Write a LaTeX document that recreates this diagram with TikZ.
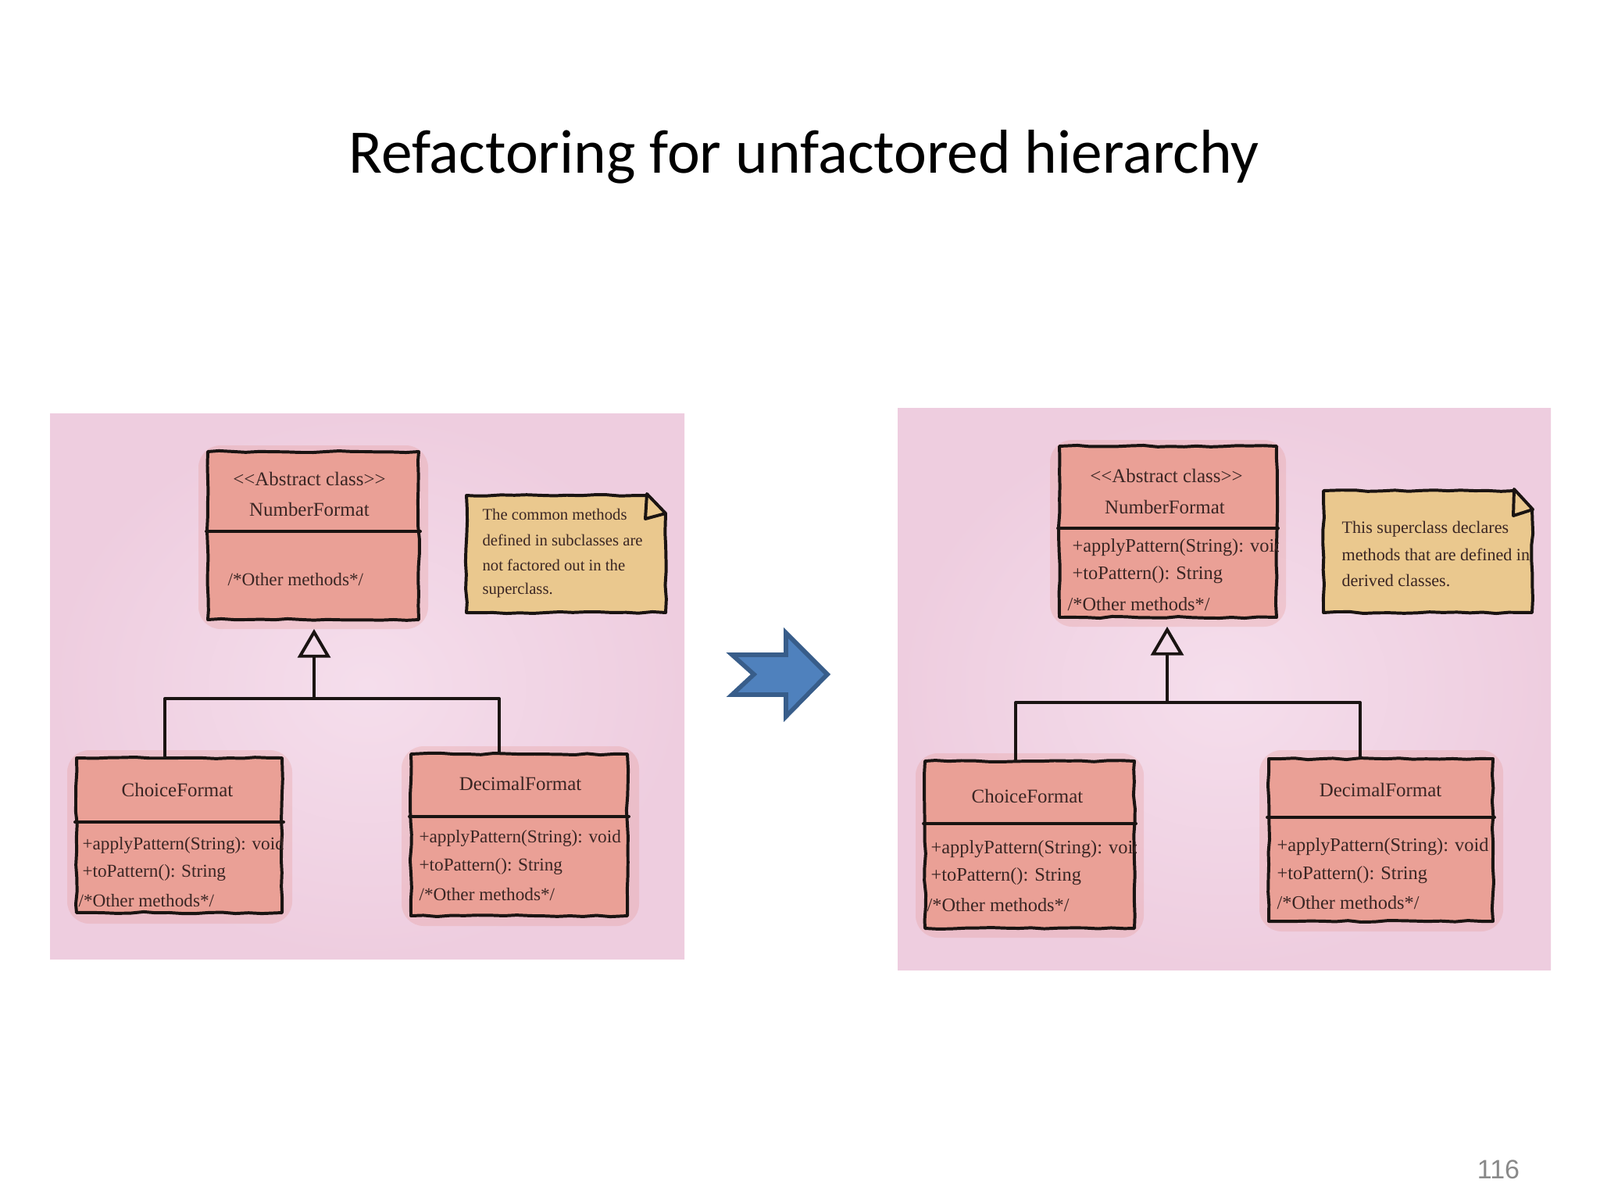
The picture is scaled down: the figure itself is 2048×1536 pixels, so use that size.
\documentclass[tikz,border=0pt]{standalone}
\usepackage{fontspec}
\setmainfont{Carlito}
\newfontfamily\hand{Liberation Serif}
\newfontfamily\pgnum{Liberation Sans}
\usetikzlibrary{arrows.meta,decorations.pathmorphing,fit}
\definecolor{panelin}{HTML}{F5DEEC}
\definecolor{panelout}{HTML}{EECDDF}
\definecolor{salmon}{HTML}{EAA096}
\definecolor{bleed}{HTML}{E58F88}
\definecolor{notefill}{HTML}{EAC88E}
\definecolor{ink}{HTML}{1A1412}
\definecolor{txt}{HTML}{3A2624}
\definecolor{arrowfill}{HTML}{4F81BD}
\definecolor{arrowline}{HTML}{385D8A}
\definecolor{numgray}{HTML}{898989}
\begin{document}
\begin{tikzpicture}[x=0.0124023cm,y=-0.0124023cm,
  ink/.style={draw=ink, line width=1.4pt, line cap=round, line join=round},
  rough/.style={decorate, decoration={random steps, segment length=6pt, amplitude=0.4pt}},
  cls/.style={ink, rough, fill=salmon, inner sep=0pt, rectangle},
  halo/.style={fill=bleed, opacity=0.25, rounded corners=10pt},
  mth/.style={font=\hand\fontsize{8.2}{10}\selectfont, text=txt, anchor=west, inner sep=0pt},
  mthr/.style={mth, font=\hand\fontsize{8.6}{10}\selectfont},
  nm/.style={font=\hand\fontsize{8.8}{11}\selectfont, text=txt, inner sep=0pt},
  nt/.style={font=\hand\fontsize{7.3}{9}\selectfont, text=txt, anchor=west, inner sep=0pt},
  ntr/.style={nt, font=\hand\fontsize{7.8}{9}\selectfont},
  notebox/.style={inner sep=0pt, rectangle},
  gen/.style={ink, -{Triangle[open, length=13pt, width=14.8pt]}, shorten >=3.5pt}
]
\useasboundingbox (0,0) rectangle (2048,1536);
\fill[white] (0,0) rectangle (2048,1536);

% title and page number
\node[font=\fontsize{28}{34}\selectfont, anchor=base] (title) at (1029,221) {Refactoring for unfactored hierarchy};
\node[font=\pgnum\fontsize{12}{14}\selectfont, text=numgray, anchor=base] (pnum) at (1918,1508) {116};

% panels
\shade[inner color=panelin, outer color=panelout] (64,529) rectangle (876,1227);
\shade[inner color=panelin, outer color=panelout] (1149,522) rectangle (1985,1241);

% big blue arrow
\filldraw[fill=arrowfill, draw=arrowline, line width=2pt, line join=miter]
  (937,838) -- (1006,838) -- (1006,810) -- (1059,863) -- (1006,917) -- (1006,889) -- (937,889) -- (965,863) -- cycle;

% ================= LEFT PANEL =================
\fill[halo] (254,570) rectangle (548,805);
\fill[halo] (86,960) rectangle (374,1182);
\fill[halo] (514,955) rectangle (818,1185);

\node[cls, fit={(266,578) (536,793)}] (lnf) {};
\draw[ink] (lnf.west |- 0,680) -- (lnf.east |- 0,680);
\node[nm] (lnfs) at (396,613) {<<Abstract class>>};
\node[nm] (lnfn) at (396,652) {NumberFormat};
\node[mth] (lnfm) at (291,742) {/*Other methods*/};

\node[notebox, fit={(597,634) (852,784)}] (lnote) {};
\fill[notefill] (597,634) -- (832,634) -- (852,657) -- (852,784) -- (597,784) -- cycle;
\draw[ink, rough] (828,634) -- (597,634) -- (597,784) -- (852,784) -- (852,657);
\draw[ink] (828,632) -- (852,657) -- (826,664) -- cycle;
\node[nt] (ln1) at (617,658) {The common methods};
\node[nt] (ln2) at (617,691) {defined in subclasses are};
\node[nt] (ln3) at (617,723) {not factored out in the};
\node[nt] (ln4) at (617,756) {superclass.};

\node[cls, fit={(98,970) (361,1168)}] (lcf) {};
\draw[ink] (lcf.west |- 0,1052) -- (lcf.east |- 0,1052);
\node[nm] (lcfn) at (227,1011) {ChoiceFormat};
\begin{scope}
\clip (lcf.south west) rectangle (lcf.north east);
\node[mth] (lcf1) at (105,1082) {+applyPattern(String): void};
\node[mth] (lcf2) at (105,1117) {+toPattern(): String};
\node[mth] (lcf3) at (100,1153) {/*Other methods*/};
\end{scope}

\node[cls, fit={(526,965) (803,1172)}] (ldf) {};
\draw[ink] (ldf.west |- 0,1045) -- (ldf.east |- 0,1045);
\node[nm] (ldfn) at (666,1003) {DecimalFormat};
\node[mth] (ldf1) at (536,1073) {+applyPattern(String): void};
\node[mth] (ldf2) at (536,1109) {+toPattern(): String};
\node[mth] (ldf3) at (536,1145) {/*Other methods*/};

\coordinate (ljn) at (402,894);
\draw[ink] (lcf.north -| 211,0) |- (ljn) -| (ldf.north -| 639,0);
\draw[gen] (ljn) -- (ljn |- lnf.south);

% ================= RIGHT PANEL =================
\fill[halo] (1344,563) rectangle (1646,802);
\fill[halo] (1172,964) rectangle (1464,1200);
\fill[halo] (1612,960) rectangle (1924,1192);

\node[cls, fit={(1356,571) (1634,790)}] (rnf) {};
\draw[ink] (rnf.west |- 0,676) -- (rnf.east |- 0,676);
\node[nm] (rnfs) at (1493,609) {<<Abstract class>>};
\node[nm] (rnfn) at (1491,649) {NumberFormat};
\begin{scope}
\clip (rnf.south west) rectangle (rnf.north east);
\node[mthr] (rnf1) at (1372,701) {+applyPattern(String): void};
\node[mthr] (rnf2) at (1372,736) {+toPattern(): String};
\node[mthr] (rnf3) at (1366,773) {/*Other methods*/};
\end{scope}

\node[notebox, fit={(1694,628) (1961,784)}] (rnote) {};
\fill[notefill] (1694,628) -- (1940,628) -- (1961,652) -- (1961,784) -- (1694,784) -- cycle;
\draw[ink, rough] (1938,628) -- (1694,628) -- (1694,784) -- (1961,784) -- (1961,652);
\draw[ink] (1938,626) -- (1962,652) -- (1937,660) -- cycle;
\begin{scope}
\clip (rnote.south west) rectangle (rnote.north east);
\node[ntr] (rn1) at (1717,677) {This superclass declares};
\node[ntr] (rn2) at (1717,710) {methods that are defined in};
\node[ntr] (rn3) at (1717,743) {derived classes.};
\end{scope}

\node[cls, fit={(1184,974) (1452,1188)}] (rcf) {};
\draw[ink] (rcf.west |- 0,1054) -- (rcf.east |- 0,1054);
\node[nm] (rcfn) at (1315,1019) {ChoiceFormat};
\begin{scope}
\clip (rcf.south west) rectangle (rcf.north east);
\node[mthr] (rcf1) at (1191,1087) {+applyPattern(String): void};
\node[mthr] (rcf2) at (1191,1122) {+toPattern(): String};
\node[mthr] (rcf3) at (1186,1158) {/*Other methods*/};
\end{scope}

\node[cls, fit={(1624,971) (1911,1179)}] (rdf) {};
\draw[ink] (rdf.west |- 0,1046) -- (rdf.east |- 0,1046);
\node[nm] (rdfn) at (1767,1011) {DecimalFormat};
\node[mthr] (rdf1) at (1634,1084) {+applyPattern(String): void};
\node[mthr] (rdf2) at (1634,1120) {+toPattern(): String};
\node[mthr] (rdf3) at (1634,1155) {/*Other methods*/};

\coordinate (rjn) at (1494,899);
\draw[ink] (rcf.north -| 1300,0) |- (rjn) -| (rdf.north -| 1741,0);
\draw[gen] (rjn) -- (rjn |- rnf.south);
\end{tikzpicture}
\end{document}
